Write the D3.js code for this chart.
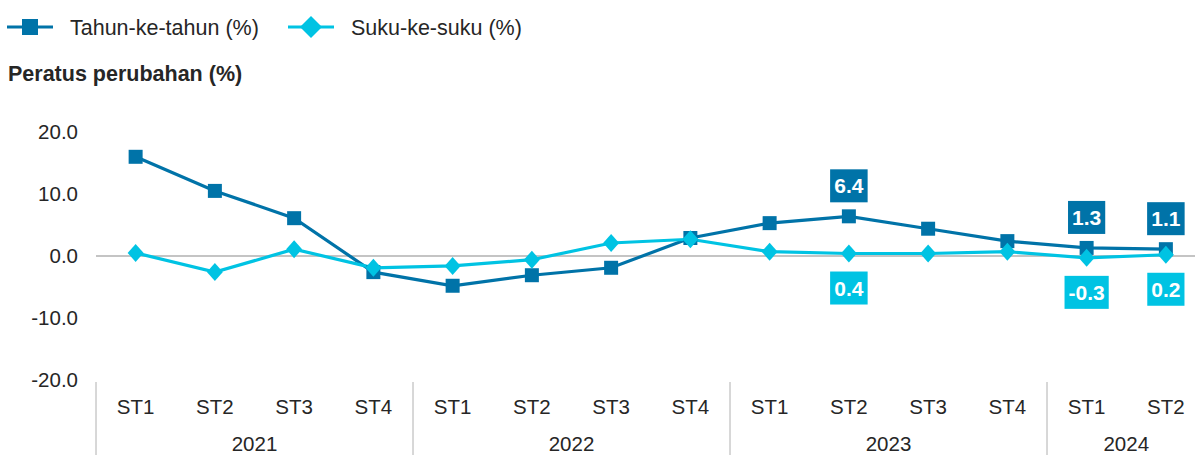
<html lang="en">
<head>
    <meta charset="UTF-8">
    <title>Peratus perubahan</title>
    <style>
        body { margin: 0; background: #fff; }
        svg#chart { display: block; font-family: "Liberation Sans", Arial, sans-serif; }
        .tick-label { font-size: 20.5px; fill: #262626; }
        .legend-label { font-size: 21.5px; fill: #262626; }
        .data-label { font-size: 21px; font-weight: bold; fill: #fff; }
    </style>
</head>
<body>
    <svg id="chart"></svg>
    <script src="https://cdnjs.cloudflare.com/ajax/libs/d3/7.8.5/d3.min.js"></script>
    <script>
        // Categories (quarters grouped by year)
        var years = ["2021", "2022", "2023", "2024"];
        var quarters = ["ST1", "ST2", "ST3", "ST4", "ST1", "ST2", "ST3", "ST4", "ST1", "ST2", "ST3", "ST4", "ST1", "ST2"];
        var quarterYears = ["2021", "2021", "2021", "2021", "2022", "2022", "2022", "2022", "2023", "2023", "2023", "2023", "2024", "2024"];

        // Series values
        var tahunKeTahun = [16.0, 10.5, 6.1, -2.6, -4.8, -3.1, -1.9, 2.9, 5.3, 6.4, 4.4, 2.4, 1.3, 1.1];
        var sukuKeSuku = [0.5, -2.6, 1.1, -1.9, -1.6, -0.6, 2.1, 2.7, 0.7, 0.4, 0.4, 0.7, -0.3, 0.2];

        // Which points get a value label
        var labelIndexTahun = [9, 12, 13];
        var labelIndexSuku = [9, 12, 13];

        var yTicks = [20, 10, 0, -10, -20];

        var width = 1195, height = 455;
        var darkBlue = "#0073a8", cyan = "#00c3e3";

        var svg = d3.select("#chart").attr("width", width).attr("height", height);

        var ids = d3.range(quarters.length);
        var x = d3.scaleBand().domain(ids).range([96, 1205.5]).padding(0);
        var y = d3.scaleLinear().domain([-20, 20]).range([380, 132]);

        function cx(i) { return x(i) + x.bandwidth() / 2; }

        // marker shapes
        function squarePath(s) { return "M" + (-s) + "," + (-s) + "H" + s + "V" + s + "H" + (-s) + "Z"; }
        function diamondPath(w, h) { return "M0," + (-h) + "L" + w + ",0L0," + h + "L" + (-w) + ",0Z"; }

        // Y tick labels
        svg.selectAll(".ytick").data(yTicks).enter().append("text")
            .attr("class", "tick-label")
            .attr("x", 78)
            .attr("y", function (d) { return y(d); })
            .attr("dy", "0.35em")
            .attr("text-anchor", "end")
            .text(function (d) { return d.toFixed(1); });

        // Zero line
        svg.append("line")
            .attr("x1", 96).attr("x2", width)
            .attr("y1", y(0)).attr("y2", y(0))
            .attr("stroke", "#b0b0b0").attr("stroke-width", 1.5);

        // X axis: quarter labels
        svg.selectAll(".qlabel").data(ids).enter().append("text")
            .attr("class", "tick-label")
            .attr("x", cx)
            .attr("y", 407)
            .attr("dy", "0.35em")
            .attr("text-anchor", "middle")
            .text(function (i) { return quarters[i]; });

        // Year groups with dividers
        years.forEach(function (yr) {
            var idx = ids.filter(function (i) { return quarterYears[i] === yr; });
            var x0 = x(idx[0]);
            svg.append("line")
                .attr("x1", x0).attr("x2", x0)
                .attr("y1", 382).attr("y2", height)
                .attr("stroke", "#b0b0b0").attr("stroke-width", 1);
            svg.append("text")
                .attr("class", "tick-label")
                .attr("x", (cx(idx[0]) + cx(idx[idx.length - 1])) / 2)
                .attr("y", 444)
                .attr("dy", "0.35em")
                .attr("text-anchor", "middle")
                .text(yr);
        });

        var line = d3.line()
            .x(function (d, i) { return cx(i); })
            .y(function (d) { return y(d); });

        // Tahun-ke-tahun series
        svg.append("path")
            .datum(tahunKeTahun)
            .attr("d", line)
            .attr("fill", "none")
            .attr("stroke", darkBlue)
            .attr("stroke-width", 3.2);

        // Suku-ke-suku series
        svg.append("path")
            .datum(sukuKeSuku)
            .attr("d", line)
            .attr("fill", "none")
            .attr("stroke", cyan)
            .attr("stroke-width", 3.2);

        svg.selectAll(".sq").data(tahunKeTahun).enter().append("path")
            .attr("d", squarePath(7))
            .attr("transform", function (d, i) { return "translate(" + cx(i) + "," + y(d) + ")"; })
            .attr("fill", darkBlue);

        svg.selectAll(".dm").data(sukuKeSuku).enter().append("path")
            .attr("d", diamondPath(8, 9))
            .attr("transform", function (d, i) { return "translate(" + cx(i) + "," + y(d) + ")"; })
            .attr("fill", cyan);

        // Data labels
        function addLabel(i, v, color, above) {
            var g = svg.append("g");
            var t = g.append("text")
                .attr("class", "data-label")
                .attr("x", cx(i))
                .attr("text-anchor", "middle")
                .text(v.toFixed(1));
            var bb = t.node().getBBox();
            var boxW = bb.width + 8, boxH = 33;
            var boxTop = above ? y(v) - 14 - boxH : y(v) + 18;
            g.insert("rect", "text")
                .attr("x", cx(i) - boxW / 2)
                .attr("y", boxTop)
                .attr("width", boxW)
                .attr("height", boxH)
                .attr("fill", color);
            t.attr("y", boxTop + boxH / 2).attr("dy", "0.36em");
        }
        labelIndexTahun.forEach(function (i) { addLabel(i, tahunKeTahun[i], darkBlue, true); });
        labelIndexSuku.forEach(function (i) { addLabel(i, sukuKeSuku[i], cyan, false); });

        // Legend
        var legend = svg.append("g");
        legend.append("line").attr("x1", 7).attr("x2", 53).attr("y1", 27).attr("y2", 27)
            .attr("stroke", darkBlue).attr("stroke-width", 3.2);
        legend.append("path").attr("d", squarePath(8)).attr("transform", "translate(30,27)").attr("fill", darkBlue);
        legend.append("text").attr("class", "legend-label").attr("x", 70).attr("y", 27).attr("dy", "0.35em")
            .text("Tahun-ke-tahun (%)");
        legend.append("line").attr("x1", 288).attr("x2", 334).attr("y1", 27).attr("y2", 27)
            .attr("stroke", cyan).attr("stroke-width", 3.2);
        legend.append("path").attr("d", diamondPath(11, 11)).attr("transform", "translate(311,27)").attr("fill", cyan);
        legend.append("text").attr("class", "legend-label").attr("x", 351).attr("y", 27).attr("dy", "0.35em")
            .text("Suku-ke-suku (%)");

        // Axis title
        svg.append("text")
            .attr("x", 8).attr("y", 73).attr("dy", "0.35em")
            .style("font-size", "21.5px").style("font-weight", "bold").attr("fill", "#262626")
            .text("Peratus perubahan (%)");
    </script>
</body>
</html>
